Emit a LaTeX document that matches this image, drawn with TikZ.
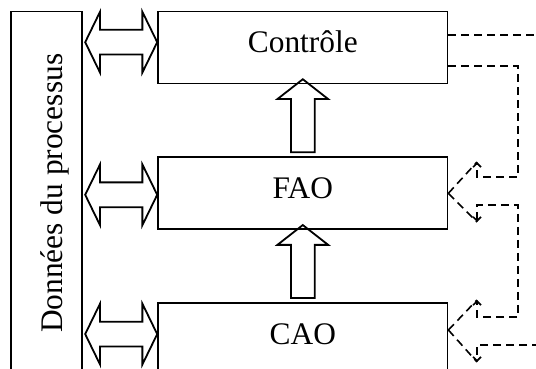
\documentclass[tikz,border=0pt]{standalone}
\usepackage{fontspec}
\setmainfont{Liberation Serif}
\usetikzlibrary{arrows.meta,positioning,calc,shapes.arrows}

\begin{document}
\begin{tikzpicture}[
  x=0.5pt,y=-0.5pt,
  node distance=36pt and 37pt,
  every node/.style={font=\fontsize{15.7}{18}\selectfont},
  blk/.style={draw,line width=0.9pt,minimum width=144.7pt,minimum height=36pt,inner sep=0pt,text height=11pt,text depth=6pt},
  dbox/.style={draw,line width=0.9pt,minimum width=35.5pt,minimum height=186pt,inner sep=0pt},
  dblarr/.style={double arrow,draw,line width=0.9pt,minimum height=36pt,inner xsep=0pt,inner ysep=5.75pt,
    double arrow head extend=9pt,double arrow tip angle=128},
  uparr/.style={single arrow,draw,line width=0.9pt,rotate=90,minimum height=36.5pt,inner xsep=0pt,inner ysep=5.5pt,
    single arrow head extend=6.75pt,single arrow tip angle=104},
  sig/.style={dash pattern=on 4pt off 2.5pt,line width=0.8pt},
  barb/.style={-{Straight Barb[length=2pt,width=4pt]}},
  barbs/.style={{Straight Barb[length=2pt,width=4pt]}-{Straight Barb[length=2pt,width=4pt]}},
]
  \useasboundingbox (0,0) rectangle (536,369);
  \clip (0,0) rectangle (536,369);

  % the three levels
  \node[blk] (ctrl) at (302.8,47.5) {Contrôle};
  \node[blk,below=of ctrl] (fao) {FAO};
  \node[blk,below=of fao] (cao) {CAO};

  % process data column
  \node[dbox,left=37pt of ctrl.north west,anchor=north east] (data) {};
  \node[rotate=90] (dlbl) at ([xshift=-14pt]data.east |- fao.center) {Données du processus};

  % data exchange
  \node[dblarr] (xc) at ($(data.east |- ctrl.west)!0.5!(ctrl.west)+(1,-5.3)$) {};
  \node[dblarr] (xf) at ($(data.east |- fao.west)!0.5!(fao.west)+(1,1.5)$) {};
  \node[dblarr] (xa) at ($(data.east |- cao.west)!0.5!(cao.west)+(1,-5)$) {};

  % upward flow
  \node[uparr] (uf) at ($(fao.north)!0.5!(ctrl.south)$) {};
  \node[uparr] (ua) at ($(cao.north)!0.5!(fao.south)$) {};

  % dashed feedback
  \coordinate (cout) at (540,35);
  \coordinate (fu) at (477,162);
  \coordinate (fd) at (477,222);
  \coordinate (cu) at (477,300);
  \coordinate (cd) at (477,362);
  \coordinate (cin) at (540,345);

  \draw[sig] (ctrl.east |- 0,35) -- (cout);
  \draw[sig,barb] (ctrl.east |- 0,66) -- (518,66) -- (518,177) -- (477,177) -- (fu);
  \draw[sig] (fao.east) -- (fu);
  \draw[sig] (fao.east) -- (fd);
  \draw[sig,barbs] (fd) -- (477,205) -- (518,205) -- (518,317) -- (477,317) -- (cu);
  \draw[sig] (cao.east |- 0,330) -- (cu);
  \draw[sig] (cao.east |- 0,330) -- (cd);
  \draw[sig,barb] (cin) -- (477,345) -- (cd);
\end{tikzpicture}
\end{document}
